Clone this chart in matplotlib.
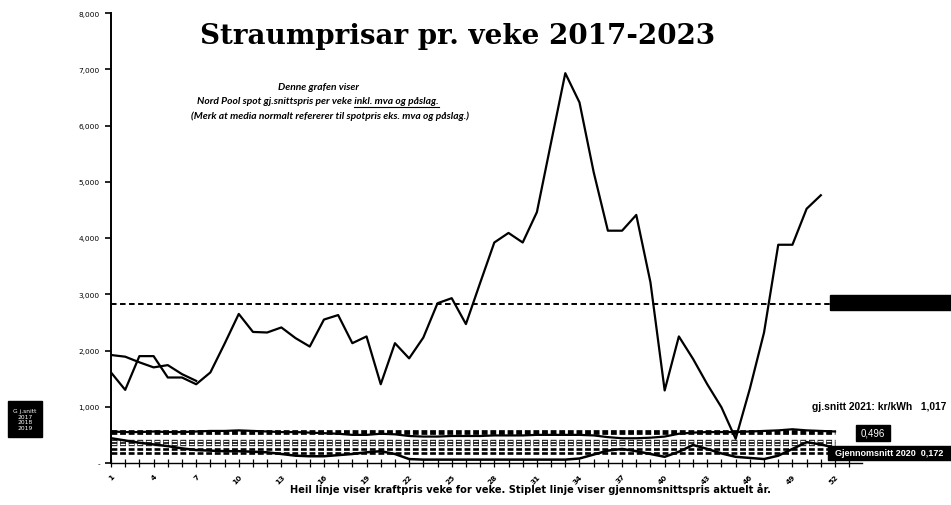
import numpy as np
import matplotlib
matplotlib.use('Agg')
import matplotlib.pyplot as plt
from matplotlib.patches import Rectangle
from matplotlib.ticker import FixedLocator, FuncFormatter

plt.rcParams['lines.scale_dashes'] = False

# weekly spot price incl. mva and påslag, kr/kWh
weeks_2022 = np.arange(1, 52)
price_2022 = [1.61, 1.30, 1.90, 1.90, 1.52, 1.52, 1.40, 1.61, 2.12, 2.65,
              2.33, 2.32, 2.41, 2.22, 2.07, 2.55, 2.63, 2.13, 2.25, 1.40,
              2.13, 1.86, 2.23, 2.84, 2.93, 2.47, 3.20, 3.92, 4.09, 3.92,
              4.46, 5.70, 6.93, 6.41, 5.17, 4.13, 4.13, 4.41, 3.21, 1.29,
              2.25, 1.85, 1.40, 0.99, 0.43, 1.32, 2.32, 3.88, 3.88, 4.52,
              4.76]
avg_2022 = 2.83

weeks_2023 = np.arange(1, 8)
price_2023 = [1.92, 1.89, 1.79, 1.70, 1.74, 1.58, 1.46]

weeks_full = np.arange(1, 53)
price_2019 = [0.56, 0.55, 0.55, 0.56, 0.55, 0.55, 0.56, 0.57, 0.57, 0.58,
              0.57, 0.56, 0.55, 0.55, 0.54, 0.53, 0.52, 0.50, 0.50, 0.52,
              0.51, 0.48, 0.47, 0.47, 0.48, 0.48, 0.48, 0.49, 0.49, 0.49,
              0.50, 0.50, 0.50, 0.50, 0.49, 0.46, 0.44, 0.44, 0.45, 0.47,
              0.52, 0.54, 0.55, 0.55, 0.55, 0.56, 0.57, 0.58, 0.60, 0.58,
              0.57, 0.56]
price_2020 = [0.44, 0.40, 0.36, 0.33, 0.30, 0.26, 0.23, 0.22, 0.21, 0.21,
              0.20, 0.19, 0.16, 0.13, 0.12, 0.12, 0.14, 0.16, 0.19, 0.21,
              0.16, 0.07, 0.06, 0.06, 0.06, 0.06, 0.06, 0.06, 0.06, 0.06,
              0.06, 0.06, 0.06, 0.08, 0.15, 0.22, 0.25, 0.21, 0.16, 0.11,
              0.20, 0.32, 0.25, 0.17, 0.11, 0.09, 0.07, 0.13, 0.25, 0.37,
              0.33, 0.27]

avg_black = [0.55, 0.25, 0.18]
avg_hollow = [0.39, 0.34]

W, H = 951, 506
fig = plt.figure(figsize=(W / 100, H / 100), dpi=100)
ax = fig.add_axes([111 / W, (H - 464) / H, (862 - 111) / W, (464 - 14) / H])

def px(x, y):
    return x / W, 1 - y / H

# average lines (dashed)
for v in avg_black:
    lw = 3.4 if v > 0.5 else 1.9
    ax.plot([1, 52], [v, v], color='black', lw=lw, dashes=(4.2, 2.0), zorder=2)
for v in avg_hollow:
    ax.plot([1, 52], [v, v], color='black', lw=2.4, dashes=(4.2, 2.0), zorder=2)
    ax.plot([1, 52], [v, v], color='white', lw=1.0, linestyle=(5.8, (3.4, 2.8)),
            zorder=2.1)
ax.plot([1, 52], [avg_2022, avg_2022], color='black', lw=1.4, dashes=(4, 2.5), zorder=2)

# weekly lines
ax.plot(weeks_full, price_2019, color='black', lw=1.6, zorder=3)
ax.plot(weeks_full, price_2020, color='black', lw=1.8, zorder=3)
ax.plot(weeks_2023, price_2023, color='black', lw=1.6, zorder=3)
ax.plot(weeks_2022, price_2022, color='black', lw=1.6, zorder=4)

ax.set_xlim(1, 53.9)
ax.set_ylim(0, 8)
for s in ['top', 'right']:
    ax.spines[s].set_visible(False)
ax.spines['left'].set_linewidth(1.4)
ax.spines['bottom'].set_linewidth(1.0)

ax.yaxis.set_major_locator(FixedLocator(range(0, 9)))
ax.yaxis.set_major_formatter(FuncFormatter(
    lambda v, p: '-' if v == 0 else f'{v:.3f}'.replace('.', ',')))
ax.tick_params(axis='y', direction='out', length=4, width=1.2, labelsize=5.3,
               pad=4)

tick_weeks = np.arange(1, 55)
ax.xaxis.set_major_locator(FixedLocator(tick_weeks))
ax.set_xticklabels([str(w) if (w - 1) % 3 == 0 and w <= 52 else '' for w in tick_weeks],
                   rotation=45, ha='right', va='top', rotation_mode='anchor',
                   fontsize=5.3, fontweight='bold')
ax.tick_params(axis='x', direction='inout', length=6, width=0.9, pad=4)

# title and notes
fig.text(*px(458, 37), 'Straumprisar pr. veke 2017-2023', ha='center', va='center',
         fontsize=20, fontweight='bold', family='DejaVu Serif')

nfont = dict(family='Lato', style='italic', fontweight='bold', fontsize=7.4)
fig.text(*px(318, 88), 'Denne grafen viser', ha='center', va='center', **nfont)
fig.text(*px(330, 116), '(Merk at media normalt refererer til spotpris eks. mva og påslag.)',
         ha='center', va='center', **nfont)
pre = 'Nord Pool spot gj.snittspris per veke'
suf = ' inkl. mva og påslag.'
t1 = fig.text(0, 1 - 102 / H, pre, ha='left', va='center', **nfont)
t2 = fig.text(0, 1 - 102 / H, suf, ha='left', va='center', **nfont)
fig.canvas.draw()
r = fig.canvas.get_renderer()
w1 = t1.get_window_extent(r).width
w2 = t2.get_window_extent(r).width
x0 = 318 - (w1 + w2) / 2
t1.set_x(x0 / W)
t2.set_x((x0 + w1) / W)
fig.add_artist(plt.Line2D([(x0 + w1 + 2) / W, (x0 + w1 + w2) / W],
                          [1 - 107.5 / H, 1 - 107.5 / H], color='black', lw=0.8))

fig.text(*px(530, 489), 'Heil linje viser kraftpris veke for veke. Stiplet linje viser gjennomsnittspris aktuelt år.',
         ha='center', va='center', fontsize=7.1, fontweight='bold', family='DejaVu Sans')

fig.text(*px(946, 407), 'gj.snitt 2021: kr/kWh   1,017', ha='right', va='center',
         fontsize=7.4, fontweight='bold', family='Liberation Sans')

# label boxes
def box(x0, y0, x1, y1):
    fig.add_artist(Rectangle((x0 / W, 1 - y1 / H), (x1 - x0) / W, (y1 - y0) / H,
                             transform=fig.transFigure, color='black', zorder=5))

box(830, 296, 951, 311)
fig.text(*px(890, 303.5), 'Gjennomsnitt 2022  2,830', ha='center', va='center',
         fontsize=6.5, fontweight='bold', color='black', zorder=6, family='Liberation Sans')
box(856, 426, 890, 442)
fig.text(*px(873, 434), '0,496', ha='center', va='center', fontsize=7,
         color='white', zorder=6, family='Liberation Sans')
box(828, 447, 951, 461)
fig.text(*px(889, 454), 'Gjennomsnitt 2020  0,172', ha='center', va='center',
         fontsize=6.5, fontweight='bold', color='white', zorder=6, family='Liberation Sans')
box(8, 402, 42, 438)
fig.text(*px(25, 420), 'G j.snitt\n2017\n2018\n2019', ha='center', va='center',
         fontsize=4.3, color='white', zorder=6, linespacing=1.1)

fig.savefig('out.png', dpi=100)
